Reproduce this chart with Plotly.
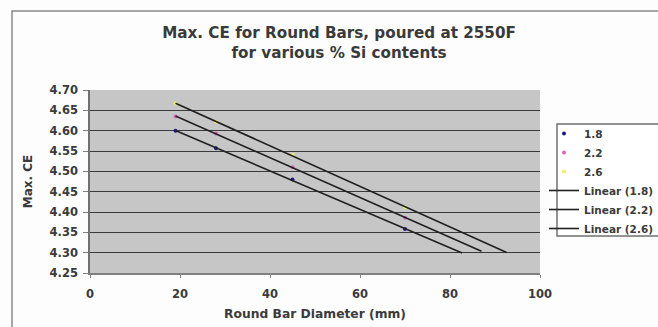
import numpy as np
import plotly.graph_objects as go

# ---- data ----
diameter = [19, 28, 45, 70]
ce_18 = [4.600, 4.557, 4.480, 4.358]
ce_22 = [4.635, 4.593, 4.510, 4.386]
ce_26 = [4.667, 4.622, 4.540, 4.412]
si_labels = ["1.8", "2.2", "2.6"]
trend_start = [19, 19, 19]
trend_end = [82.7, 87.0, 92.6]   # forecast extent of Excel trendlines
y_ticks = [4.25, 4.30, 4.35, 4.40, 4.45, 4.50, 4.55, 4.60, 4.65, 4.70]
x_ticks = [0, 20, 40, 60, 80, 100]

series = [ce_18, ce_22, ce_26]
marker_colors = ["#1a1a8c", "#e060c0", "#f0f060"]

W, H = 658, 327
ML, MR, MT, MB = 90, 118, 90, 54
FONT = "DejaVu Sans, Verdana, sans-serif"
TXT = "#3a3a3a"

fig = go.Figure()
for lab, ys, col in zip(si_labels, series, marker_colors):
    fig.add_trace(go.Scatter(x=diameter, y=ys, mode="markers", name=lab,
                             marker=dict(color=col, size=4)))
for lab, ys, x0, x1 in zip(si_labels, series, trend_start, trend_end):
    m, b = np.polyfit(diameter, ys, 1)
    xs = np.array([x0, x1])
    fig.add_trace(go.Scatter(x=xs, y=m * xs + b, mode="lines",
                             name=f"Linear ({lab})",
                             line=dict(color="#202020", width=1.6)))

def px_x(p):
    return (p - ML) / (W - ML - MR)

def px_y(p):
    return (H - MB - p) / (H - MT - MB)

# outer chart border (Excel chart area)
fig.add_shape(type="rect", xref="paper", yref="paper",
              x0=px_x(12), x1=px_x(W + 5), y0=px_y(H + 5), y1=px_y(11),
              line=dict(color="#8a8a8a", width=1.5), fillcolor="rgba(0,0,0,0)",
              layer="below")
# legend frame
fig.add_shape(type="rect", xref="paper", yref="paper",
              x0=px_x(557), x1=px_x(W + 5), y0=px_y(236), y1=px_y(124),
              line=dict(color="#707070", width=1.5), fillcolor="#ffffff",
              layer="below")

fig.update_layout(
    width=W, height=H,
    margin=dict(l=ML, r=MR, t=MT, b=MB, autoexpand=False),
    paper_bgcolor="#fdfdfd",
    plot_bgcolor="#c6c6c6",
    font=dict(family=FONT, size=10, color=TXT, weight="bold"),
    title=dict(text="Max. CE for Round Bars, poured at 2550F<br>for various % Si contents",
               xref="container", yref="container",
               x=339 / W, xanchor="center", y=1 - 38 / H, yanchor="middle",
               font=dict(size=15.2, color=TXT, weight="bold")),
    showlegend=True,
    legend=dict(x=px_x(544), xanchor="left", y=px_y(119), yanchor="top",
                bgcolor="rgba(0,0,0,0)", borderwidth=0,
                font=dict(size=10.5, color=TXT, weight="bold"),
                tracegroupgap=0, itemwidth=30),
    xaxis=dict(range=[0, 100], tickvals=x_ticks, ticks="outside", ticklen=3,
               tickcolor="#808080", showline=True, linecolor="#808080",
               linewidth=1.5, showgrid=False, zeroline=False,
               ticklabelstandoff=6,
               title=dict(text="Round Bar Diameter (mm)",
                          font=dict(size=12.3), standoff=10),
               tickfont=dict(size=11.5)),
    yaxis=dict(range=[4.25, 4.70], tickvals=y_ticks,
               ticktext=[f"{v:.2f}" for v in y_ticks],
               ticks="outside", ticklen=5, tickcolor="#808080",
               showline=True, linecolor="#707070", linewidth=1.5,
               showgrid=True, gridcolor="#3a3a3a", gridwidth=1.3,
               zeroline=False, ticklabelstandoff=3,
               title=dict(text="Max. CE", font=dict(size=12), standoff=14),
               tickfont=dict(size=11.5)),
)

fig.write_html("out.html")
